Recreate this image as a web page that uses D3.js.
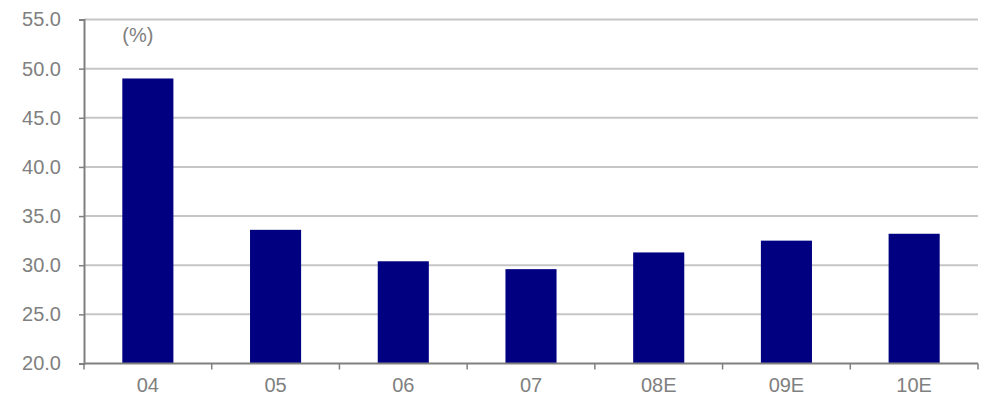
<!DOCTYPE html>
<html>
<head>
<meta charset="utf-8">
<script src="https://cdn.jsdelivr.net/npm/d3@7"></script>
<style>
  body { margin: 0; background: #fff; }
  text { font-family: "Liberation Sans", Arial, sans-serif; fill: #808080; }
</style>
</head>
<body>
<div id="chart"></div>
<script>
// data
var categories = ["04", "05", "06", "07", "08E", "09E", "10E"];
var values = [49.0, 33.6, 30.4, 29.6, 31.3, 32.5, 33.2];
var yTicks = [20, 25, 30, 35, 40, 45, 50, 55];
var unitLabel = "(%)";

function init() {
    var w = 991;
    var h = 398;
    var margin = {top: 19.5, right: 13, bottom: 34.5, left: 84};
    var iw = w - margin.left - margin.right;
    var ih = h - margin.top - margin.bottom;

    var svg = d3.select("#chart")
                .append("svg")
                .attr("width", w)
                .attr("height", h);

    var g = svg.append("g")
               .attr("transform", "translate(" + margin.left + "," + margin.top + ")");

    var x = d3.scaleBand()
              .domain(categories)
              .range([0, iw])
              .paddingInner(0.6)
              .paddingOuter(0.3);

    var y = d3.scaleLinear()
              .domain([20, 55])
              .range([ih, 0]);

    // gridlines
    g.selectAll("line.grid")
     .data(yTicks.slice(1))
     .enter()
     .append("line")
     .attr("class", "grid")
     .attr("x1", 0)
     .attr("x2", iw)
     .attr("y1", function(d) { return y(d); })
     .attr("y2", function(d) { return y(d); })
     .attr("stroke", "#c6c6c6")
     .attr("stroke-width", 2);

    // bars
    g.selectAll("rect.bar")
     .data(values)
     .enter()
     .append("rect")
     .attr("class", "bar")
     .attr("x", function(d, i) { return x(categories[i]); })
     .attr("width", x.bandwidth())
     .attr("y", function(d) { return y(d); })
     .attr("height", function(d) { return ih - y(d); })
     .attr("fill", "#000080");

    // y axis
    var yAxis = g.append("g")
                 .call(d3.axisLeft(y).tickValues(yTicks).tickSize(5).tickPadding(18)
                         .tickFormat(d3.format(".1f")));
    yAxis.select(".domain").attr("stroke", "#808080").attr("stroke-width", 2);
    yAxis.selectAll(".tick line").attr("stroke", "#808080").attr("stroke-width", 1.5);
    yAxis.selectAll("text").style("font-size", "20px").attr("fill", "#808080");

    // x axis, ticks on category boundaries
    var xAxis = g.append("g")
                 .attr("transform", "translate(0," + ih + ")");
    xAxis.append("line")
         .attr("x1", 0).attr("x2", iw)
         .attr("stroke", "#808080").attr("stroke-width", 2);
    var bounds = d3.range(categories.length + 1).map(function(i) { return i * x.step(); });
    xAxis.selectAll("line.tk")
         .data(bounds)
         .enter()
         .append("line")
         .attr("class", "tk")
         .attr("x1", function(d) { return d; })
         .attr("x2", function(d) { return d; })
         .attr("y1", 0).attr("y2", 6)
         .attr("stroke", "#808080").attr("stroke-width", 1.5);
    xAxis.selectAll("text")
         .data(categories)
         .enter()
         .append("text")
         .attr("x", function(d) { return x(d) + x.bandwidth() / 2; })
         .attr("y", 28)
         .attr("text-anchor", "middle")
         .style("font-size", "20px")
         .text(function(d) { return d; });

    // unit label
    g.append("text")
     .attr("x", x(categories[0]))
     .attr("y", 22)
     .style("font-size", "20px")
     .text(unitLabel);
}

window.onload = init;
</script>
</body>
</html>
